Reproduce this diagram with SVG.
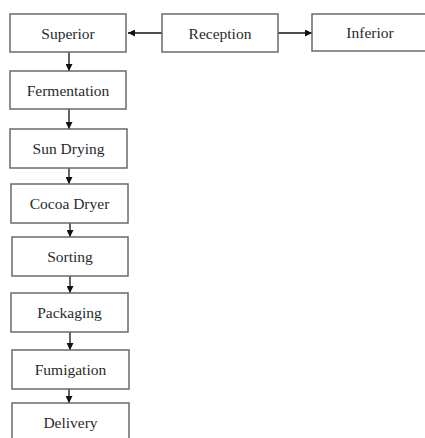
<svg xmlns="http://www.w3.org/2000/svg" width="425" height="438" viewBox="0 0 425 438">
<style>
.box{fill:#fff;stroke:#6a6a6a;stroke-width:1.5}
.lbl{font-family:"Liberation Serif","Times New Roman",serif;font-size:15.5px;fill:#2a2a2a;text-anchor:middle;dominant-baseline:central}
.con{stroke:#111;stroke-width:1.3;fill:none}
</style>
<defs>
<marker id="ah" viewBox="0 0 10 10" refX="10" refY="5" markerWidth="7" markerHeight="7" markerUnits="userSpaceOnUse" orient="auto">
<path d="M0,0 L10,5 L0,10 z" fill="#111"/>
</marker>
</defs>
<rect width="425" height="438" fill="#fff"/>
<g id="connectors">
<line class="con" x1="162" y1="33" x2="128" y2="33" marker-end="url(#ah)"/>
<line class="con" x1="278" y1="33" x2="312" y2="33" marker-end="url(#ah)"/>
<line class="con" x1="69" y1="52" x2="69" y2="71" marker-end="url(#ah)"/>
<line class="con" x1="69" y1="109" x2="69" y2="129" marker-end="url(#ah)"/>
<line class="con" x1="69" y1="168" x2="69" y2="184" marker-end="url(#ah)"/>
<line class="con" x1="70" y1="223" x2="70" y2="237" marker-end="url(#ah)"/>
<line class="con" x1="70" y1="276" x2="70" y2="293" marker-end="url(#ah)"/>
<line class="con" x1="70" y1="332" x2="70" y2="350" marker-end="url(#ah)"/>
<line class="con" x1="69" y1="389" x2="69" y2="403" marker-end="url(#ah)"/>
</g>
<g id="superior"><rect class="box" x="10" y="14" width="116" height="38"/><text class="lbl" x="68" y="33">Superior</text></g>
<g id="reception"><rect class="box" x="162" y="14" width="116" height="38"/><text class="lbl" x="220" y="33">Reception</text></g>
<g id="inferior"><rect class="box" x="312" y="14" width="116" height="37"/><text class="lbl" x="370" y="32">Inferior</text></g>
<g id="fermentation"><rect class="box" x="10" y="71" width="116" height="38"/><text class="lbl" x="68" y="90">Fermentation</text></g>
<g id="sun-drying"><rect class="box" x="10" y="129" width="117" height="39"/><text class="lbl" x="68.5" y="148">Sun Drying</text></g>
<g id="cocoa-dryer"><rect class="box" x="11" y="184" width="117" height="39"/><text class="lbl" x="69.5" y="203">Cocoa Dryer</text></g>
<g id="sorting"><rect class="box" x="12" y="237" width="116" height="39"/><text class="lbl" x="70" y="256">Sorting</text></g>
<g id="packaging"><rect class="box" x="11" y="293" width="117" height="39"/><text class="lbl" x="69.5" y="312">Packaging</text></g>
<g id="fumigation"><rect class="box" x="12" y="350" width="117" height="39"/><text class="lbl" x="70.5" y="369">Fumigation</text></g>
<g id="delivery"><rect class="box" x="12" y="403" width="117" height="40"/><text class="lbl" x="70.5" y="422">Delivery</text></g>
</svg>
